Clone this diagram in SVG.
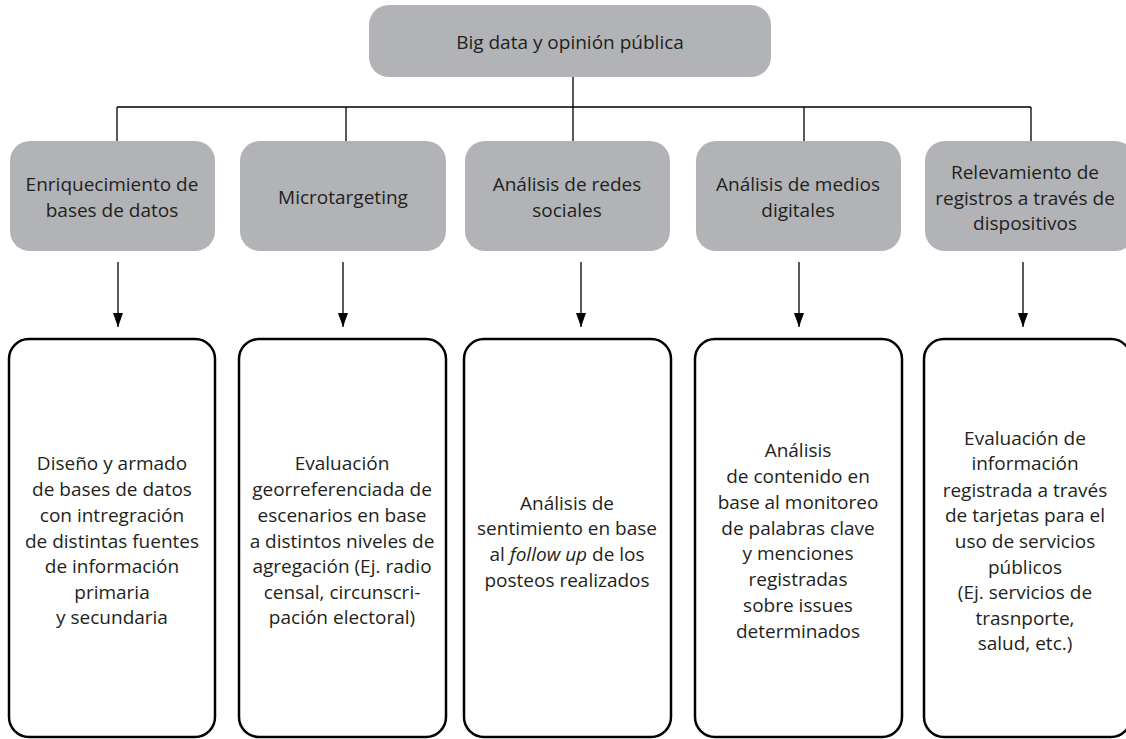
<svg xmlns="http://www.w3.org/2000/svg" width="1126" height="739" viewBox="0 0 1126 739">
<style>
text{font-family:"Open Sans","Liberation Sans",sans-serif;fill:#231f20;text-anchor:middle}
.cat{fill:#b1b3b6}
.t{font-size:19px}
.d{font-size:19px}
.box{fill:#fff;stroke:#000;stroke-width:2.5}
.ln{stroke:#000;stroke-width:1.3;fill:none}
</style>
<defs>
<marker id="ah" viewBox="0 0 14 10" refX="14" refY="5" markerWidth="14" markerHeight="10" markerUnits="userSpaceOnUse" orient="auto">
<path d="M0,0 L14,5 L0,10 z" fill="#000"/>
</marker>
</defs>
<g id="connectors">
<path class="ln" d="M573,77 V107 M117,107 H1031 M117,107 V141 M346,107 V141 M573,107 V141 M804,107 V141 M1031,107 V141"/>
<path class="ln" d="M118,262 V327" marker-end="url(#ah)"/>
<path class="ln" d="M343,262 V327" marker-end="url(#ah)"/>
<path class="ln" d="M581,262 V327" marker-end="url(#ah)"/>
<path class="ln" d="M799,262 V327" marker-end="url(#ah)"/>
<path class="ln" d="M1023,262 V327" marker-end="url(#ah)"/>
</g>
<g id="root">
<rect class="cat" x="369" y="5" width="402" height="72" rx="20"/>
<text class="t" x="570" y="49">Big data y opinión pública</text>
</g>
<g id="cat1">
<rect class="cat" x="10" y="141" width="205" height="110" rx="20"/>
<text class="t" x="112" y="191">Enriquecimiento de</text>
<text class="t" x="112" y="217">bases de datos</text>
</g>
<g id="cat2">
<rect class="cat" x="240" y="141" width="206" height="110" rx="20"/>
<text class="t" x="343" y="204">Microtargeting</text>
</g>
<g id="cat3">
<rect class="cat" x="465" y="141" width="205" height="110" rx="20"/>
<text class="t" x="567" y="191">Análisis de redes</text>
<text class="t" x="567" y="217">sociales</text>
</g>
<g id="cat4">
<rect class="cat" x="696" y="141" width="205" height="110" rx="20"/>
<text class="t" x="798" y="191">Análisis de medios</text>
<text class="t" x="798" y="217">digitales</text>
</g>
<g id="cat5">
<rect class="cat" x="925" y="141" width="210" height="110" rx="20"/>
<text class="t" x="1025" y="179">Relevamiento de</text>
<text class="t" x="1025" y="205">registros a través de</text>
<text class="t" x="1025" y="230">dispositivos</text>
</g>
<g id="desc1">
<rect class="box" x="9" y="339" width="206" height="398" rx="20"/>
<text class="d" x="112"><tspan x="112" y="470">Diseño y armado</tspan><tspan x="112" y="496">de bases de datos</tspan><tspan x="112" y="522">con intregración</tspan><tspan x="112" y="548">de distintas fuentes</tspan><tspan x="112" y="573">de información</tspan><tspan x="112" y="599">primaria</tspan><tspan x="112" y="624">y secundaria</tspan></text>
</g>
<g id="desc2">
<rect class="box" x="239" y="339" width="207" height="398" rx="20"/>
<text class="d" x="342"><tspan x="342" y="470">Evaluación</tspan><tspan x="342" y="496">georreferenciada de</tspan><tspan x="342" y="522">escenarios en base</tspan><tspan x="342" y="548">a distintos niveles de</tspan><tspan x="342" y="573">agregación (Ej. radio</tspan><tspan x="342" y="599">censal, circunscri-</tspan><tspan x="342" y="624">pación electoral)</tspan></text>
</g>
<g id="desc3">
<rect class="box" x="464" y="339" width="207" height="398" rx="20"/>
<text class="d" x="567"><tspan x="567" y="510">Análisis de</tspan><tspan x="567" y="535">sentimiento en base</tspan><tspan x="567" y="561">al <tspan font-style="italic">follow up</tspan> de los</tspan><tspan x="567" y="587">posteos realizados</tspan></text>
</g>
<g id="desc4">
<rect class="box" x="695" y="339" width="207" height="398" rx="20"/>
<text class="d" x="798"><tspan x="798" y="457">Análisis</tspan><tspan x="798" y="483">de contenido en</tspan><tspan x="798" y="509">base al monitoreo</tspan><tspan x="798" y="535">de palabras clave</tspan><tspan x="798" y="560">y menciones</tspan><tspan x="798" y="586">registradas</tspan><tspan x="798" y="612">sobre issues</tspan><tspan x="798" y="638">determinados</tspan></text>
</g>
<g id="desc5">
<rect class="box" x="924" y="339" width="207" height="398" rx="20"/>
<text class="d" x="1025"><tspan x="1025" y="445">Evaluación de</tspan><tspan x="1025" y="470">información</tspan><tspan x="1025" y="497">registrada a través</tspan><tspan x="1025" y="522">de tarjetas para el</tspan><tspan x="1025" y="548">uso de servicios</tspan><tspan x="1025" y="574">públicos</tspan><tspan x="1025" y="599">(Ej. servicios de</tspan><tspan x="1025" y="625">trasnporte,</tspan><tspan x="1025" y="650">salud, etc.)</tspan></text>
</g>
</svg>
